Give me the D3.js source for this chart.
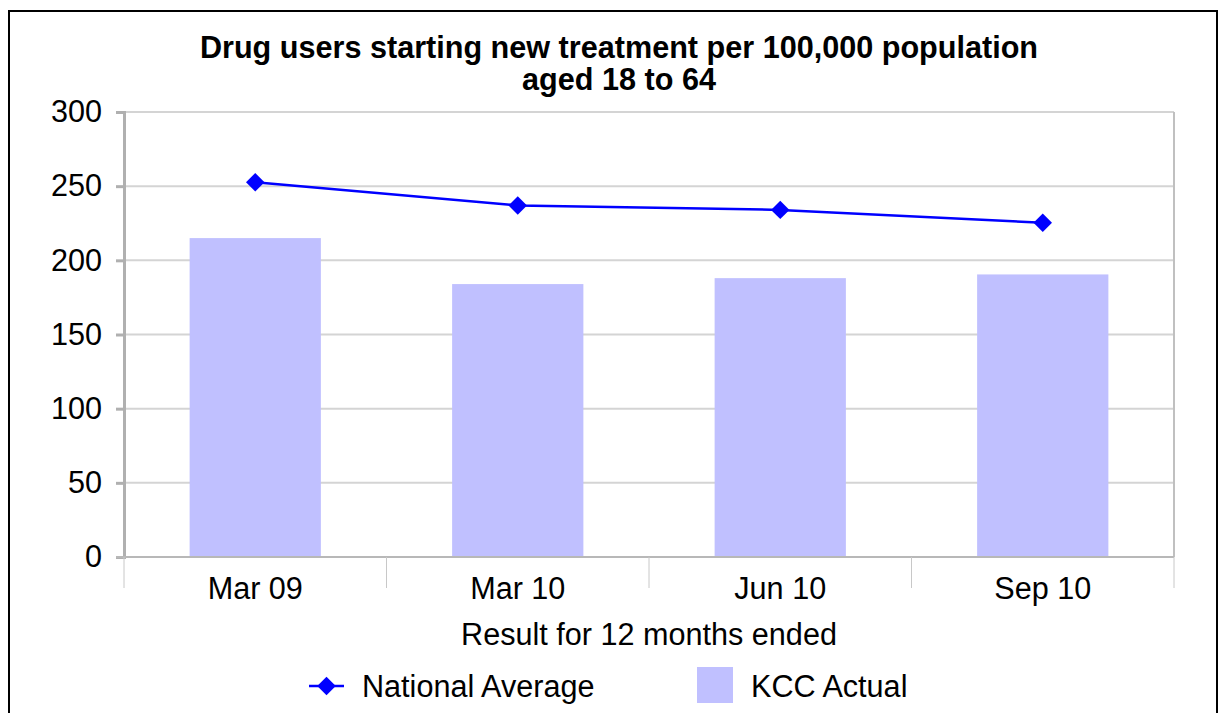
<!DOCTYPE html>
<html>
<head>
<meta charset="utf-8">
<script src="https://cdn.jsdelivr.net/npm/d3@7"></script>
<style>
  body { margin: 0; background: #fff; }
  svg { display: block; font-family: "Liberation Sans", Arial, sans-serif; }
</style>
</head>
<body>
<div id="chart-container"></div>
<script>
// data
var categories = ["Mar 09", "Mar 10", "Jun 10", "Sep 10"];
var kccActual = [215, 184, 188, 190.5];
var nationalAverage = [252.7, 237, 234, 225.3];
var yTicks = [0, 50, 100, 150, 200, 250, 300];
var titleLines = ["Drug users starting new treatment per 100,000 population", "aged 18 to 64"];

var W = 1219, H = 713;
var margin = { top: 112, right: 45, bottom: 156, left: 124 };
var width = W - margin.left - margin.right;
var height = H - margin.top - margin.bottom;
var fs = 30.6;

var svg = d3.select("#chart-container").append("svg")
  .attr("width", W)
  .attr("height", H);

// outer frame
svg.append("rect")
  .attr("x", 9).attr("y", 11)
  .attr("width", 1208).attr("height", 740)
  .attr("fill", "none").attr("stroke", "#000").attr("stroke-width", 2);

// title
svg.append("g").selectAll("text")
  .data(titleLines)
  .enter().append("text")
  .attr("x", 619)
  .attr("y", function(d, i) { return 58 + i * 32; })
  .attr("text-anchor", "middle")
  .attr("font-size", fs)
  .attr("font-weight", "bold")
  .text(function(d) { return d; });

var g = svg.append("g")
  .attr("transform", "translate(" + margin.left + "," + margin.top + ")");

var x = d3.scaleBand().domain(categories).range([0, width]).paddingInner(0.5).paddingOuter(0.25);
var xOuter = d3.scaleBand().domain(categories).range([0, width]);
var y = d3.scaleLinear().domain([0, 300]).range([height, 0]);

// gridlines
g.append("g").selectAll("line")
  .data(yTicks.slice(1))
  .enter().append("line")
  .attr("x1", 0).attr("x2", width)
  .attr("y1", function(d) { return y(d); })
  .attr("y2", function(d) { return y(d); })
  .attr("stroke", "#d4d4d4").attr("stroke-width", 2);

// right plot border
g.append("line")
  .attr("x1", width).attr("x2", width)
  .attr("y1", 0).attr("y2", height)
  .attr("stroke", "#c0c0c0").attr("stroke-width", 2);

// bars
g.selectAll("rect.bar")
  .data(kccActual)
  .enter().append("rect")
  .attr("class", "bar")
  .attr("x", function(d, i) { return x(categories[i]); })
  .attr("width", x.bandwidth())
  .attr("y", function(d) { return y(d); })
  .attr("height", function(d) { return height - y(d); })
  .attr("fill", "#c0c0ff");

// y axis
var yAxis = d3.axisLeft(y).tickValues(yTicks).tickSize(8).tickPadding(14);
var yG = g.append("g").call(yAxis);
yG.select(".domain").attr("stroke", "#b0b0b0").attr("stroke-width", 3);
yG.selectAll(".tick line").attr("stroke", "#b0b0b0").attr("stroke-width", 3);
yG.selectAll(".tick text")
  .attr("font-size", fs)
  .attr("font-family", "Liberation Sans, Arial, sans-serif")
  .attr("fill", "#000");

// x axis: category ticks on the boundaries
var xG = g.append("g").attr("transform", "translate(0," + height + ")");
xG.append("line")
  .attr("x1", -8).attr("x2", width)
  .attr("stroke", "#b8b8b8").attr("stroke-width", 2);
xG.selectAll("line.sep")
  .data(categories.concat(["end"]))
  .enter().append("line")
  .attr("class", "sep")
  .attr("x1", function(d, i) { return i * xOuter.step(); })
  .attr("x2", function(d, i) { return i * xOuter.step(); })
  .attr("y1", 0).attr("y2", 31)
  .attr("stroke", "#c8c8c8").attr("stroke-width", 1);
xG.selectAll("text")
  .data(categories)
  .enter().append("text")
  .attr("x", function(d) { return xOuter(d) + xOuter.bandwidth() / 2; })
  .attr("y", 42)
  .attr("text-anchor", "middle")
  .attr("font-size", fs)
  .text(function(d) { return d; });

// axis title
svg.append("text")
  .attr("x", margin.left + width / 2)
  .attr("y", 645)
  .attr("text-anchor", "middle")
  .attr("font-size", fs)
  .text("Result for 12 months ended");

// national average line
var line = d3.line()
  .x(function(d, i) { return xOuter(categories[i]) + xOuter.bandwidth() / 2; })
  .y(function(d) { return y(d); });

g.append("path")
  .datum(nationalAverage)
  .attr("d", line)
  .attr("fill", "none")
  .attr("stroke", "#0000ff")
  .attr("stroke-width", 2.5);

var diamond = d3.symbol().type(d3.symbolSquare).size(170);
g.selectAll("path.marker")
  .data(nationalAverage)
  .enter().append("path")
  .attr("class", "marker")
  .attr("d", diamond)
  .attr("transform", function(d, i) {
    return "translate(" + (xOuter(categories[i]) + xOuter.bandwidth() / 2) + "," + y(d) + ") rotate(45)";
  })
  .attr("fill", "#0000ff");

// legend
var legend = svg.append("g");
legend.append("line")
  .attr("x1", 309).attr("x2", 344)
  .attr("y1", 686).attr("y2", 686)
  .attr("stroke", "#0000ff").attr("stroke-width", 2.5);
legend.append("path")
  .attr("d", diamond)
  .attr("transform", "translate(326.5,686) rotate(45)")
  .attr("fill", "#0000ff");
legend.append("text")
  .attr("x", 362).attr("y", 697)
  .attr("font-size", fs)
  .text("National Average");
legend.append("rect")
  .attr("x", 697).attr("y", 667)
  .attr("width", 36).attr("height", 36)
  .attr("fill", "#c0c0ff");
legend.append("text")
  .attr("x", 751).attr("y", 697)
  .attr("font-size", fs)
  .text("KCC Actual");
</script>
</body>
</html>
